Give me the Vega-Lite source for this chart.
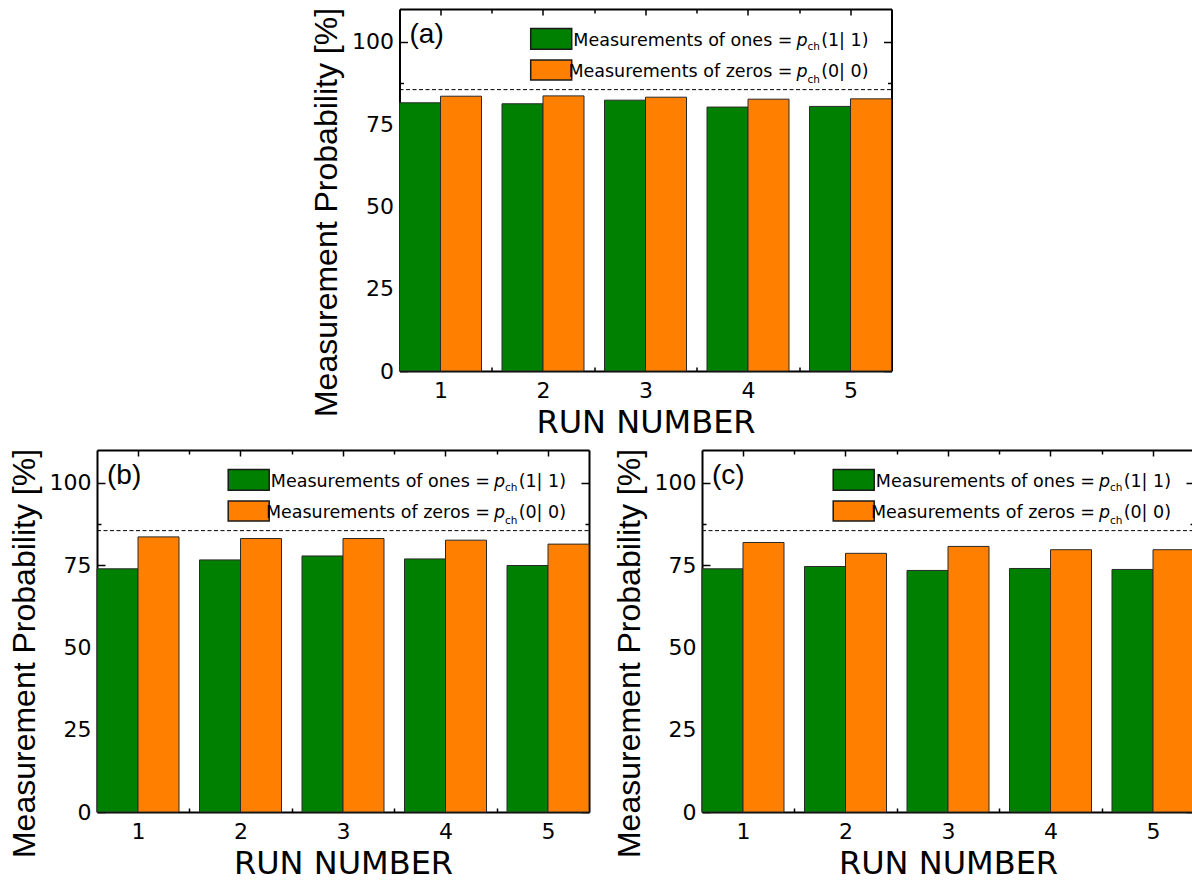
{
  "$schema": "https://vega.github.io/schema/vega-lite/v6.json",
  "padding": {"left": 7, "top": 7, "right": 0, "bottom": 0},
  "background": "white",
  "datasets": {
    "runs": [
      {"panel": "a", "run": 1, "series": "ones", "value": 81.5},
      {"panel": "a", "run": 1, "series": "zeros", "value": 83.5},
      {"panel": "a", "run": 2, "series": "ones", "value": 81.2},
      {"panel": "a", "run": 2, "series": "zeros", "value": 83.6},
      {"panel": "a", "run": 3, "series": "ones", "value": 82.3},
      {"panel": "a", "run": 3, "series": "zeros", "value": 83.2},
      {"panel": "a", "run": 4, "series": "ones", "value": 80.2},
      {"panel": "a", "run": 4, "series": "zeros", "value": 82.6},
      {"panel": "a", "run": 5, "series": "ones", "value": 80.4},
      {"panel": "a", "run": 5, "series": "zeros", "value": 82.7},
      {"panel": "b", "run": 1, "series": "ones", "value": 73.9},
      {"panel": "b", "run": 1, "series": "zeros", "value": 83.6},
      {"panel": "b", "run": 2, "series": "ones", "value": 76.6},
      {"panel": "b", "run": 2, "series": "zeros", "value": 83.1},
      {"panel": "b", "run": 3, "series": "ones", "value": 77.8},
      {"panel": "b", "run": 3, "series": "zeros", "value": 83.1},
      {"panel": "b", "run": 4, "series": "ones", "value": 76.9},
      {"panel": "b", "run": 4, "series": "zeros", "value": 82.6},
      {"panel": "b", "run": 5, "series": "ones", "value": 74.9},
      {"panel": "b", "run": 5, "series": "zeros", "value": 81.4},
      {"panel": "c", "run": 1, "series": "ones", "value": 73.9},
      {"panel": "c", "run": 1, "series": "zeros", "value": 81.9},
      {"panel": "c", "run": 2, "series": "ones", "value": 74.6},
      {"panel": "c", "run": 2, "series": "zeros", "value": 78.6},
      {"panel": "c", "run": 3, "series": "ones", "value": 73.4},
      {"panel": "c", "run": 3, "series": "zeros", "value": 80.7},
      {"panel": "c", "run": 4, "series": "ones", "value": 74.0},
      {"panel": "c", "run": 4, "series": "zeros", "value": 79.7},
      {"panel": "c", "run": 5, "series": "ones", "value": 73.7},
      {"panel": "c", "run": 5, "series": "zeros", "value": 79.7}
    ]
  },
  "vconcat": [
    {
      "width": 492, "height": 362,
      "layer": [
        {
          "data": {"name": "runs"},
          "transform": [{"filter": "datum.panel == 'a'"}],
          "mark": {"type": "bar", "stroke": "#2a2a2a", "strokeWidth": 1},
          "encoding": {
            "x": {"field": "run", "type": "ordinal", "scale": {"paddingInner": 0.2, "paddingOuter": 0},
              "axis": {"orient": "bottom", "title": "RUN NUMBER", "labelAngle": 0, "labelFont": "DejaVu Sans", "labelFontSize": 22, "labelPadding": 13, "tickSize": -4, "tickOffset": 51.25, "labelOffset": -51.25,
                "tickOpacity": {"condition": {"test": "datum.value == 5", "value": 0}, "value": 1},
                "titleFont": "DejaVu Sans", "titleFontSize": 32, "titleBaseline": "alphabetic", "titleY": 61}},
            "xOffset": {"field": "series", "type": "nominal", "scale": {"domain": ["ones", "zeros"], "paddingInner": 0, "paddingOuter": 0}},
            "y": {"field": "value", "type": "quantitative", "scale": {"domain": [0, 110], "nice": false, "zero": true},
              "axis": {"orient": "left", "title": "Measurement Probability [%]", "values": [0, 12.5, 25, 37.5, 50, 62.5, 75, 87.5, 100],
                "labelExpr": "datum.value % 25 == 0 ? datum.label : ''", "labelFont": "DejaVu Sans", "labelFontSize": 22, "labelPadding": 14,
                "tickSize": {"condition": {"test": "datum.value % 25 == 0", "value": -8}, "value": -4},
                "titleFontSize": 32, "titleBaseline": "alphabetic", "titleAlign": "center", "titleX": -63, "titleY": 203}},
            "color": {"field": "series", "type": "nominal", "scale": {"domain": ["ones", "zeros"], "range": ["#008000", "#ff8000"]}, "legend": null}
          }
        },
        {
          "data": {"values": [{}]},
          "layer": [
            {"mark": {"type": "rule", "strokeDash": [4, 2.5], "strokeWidth": 1, "color": "black"},
             "encoding": {
               "x": {"datum": 0.6, "type": "quantitative", "scale": {"domain": [0.6, 5.4], "nice": false, "zero": false},
                 "axis": {"orient": "top", "title": null, "labels": false, "values": [1, 1.5, 2, 2.5, 3, 3.5, 4, 4.5, 5],
                   "tickSize": {"condition": {"test": "datum.value % 1 == 0", "value": -6}, "value": -4}}},
               "x2": {"datum": 5.4},
               "y": {"datum": 85.5, "type": "quantitative",
                 "axis": {"orient": "right", "title": null, "labels": false, "values": [0, 12.5, 25, 37.5, 50, 62.5, 75, 87.5, 100],
                   "tickSize": {"condition": {"test": "datum.value % 25 == 0", "value": -8}, "value": -4}}}}},
            {"mark": {"type": "rect", "fill": "#008000", "stroke": "#1a1a1a", "strokeWidth": 1.5},
             "encoding": {"x": {"datum": 1.88, "type": "quantitative"}, "x2": {"datum": 2.28}, "y": {"datum": 104.1, "type": "quantitative"}, "y2": {"datum": 97.8}}},
            {"mark": {"type": "rect", "fill": "#ff8000", "stroke": "#1a1a1a", "strokeWidth": 1.5},
             "encoding": {"x": {"datum": 1.88, "type": "quantitative"}, "x2": {"datum": 2.28}, "y": {"datum": 94.5, "type": "quantitative"}, "y2": {"datum": 88.4}}},
            {"mark": {"type": "text", "text": "Measurements of ones =", "align": "right", "baseline": "alphabetic", "fontSize": 17.5, "font": "DejaVu Sans", "color": "black"},
             "encoding": {"x": {"datum": 4.434, "type": "quantitative"}, "y": {"datum": 98.75, "type": "quantitative"}}},
            {"mark": {"type": "text", "text": "Measurements of zeros =", "align": "right", "baseline": "alphabetic", "fontSize": 17.5, "font": "DejaVu Sans", "color": "black"},
             "encoding": {"x": {"datum": 4.434, "type": "quantitative"}, "y": {"datum": 89.4, "type": "quantitative"}}},
            {"mark": {"type": "text", "text": "p", "align": "left", "baseline": "alphabetic", "fontSize": 17.5, "fontStyle": "italic", "font": "DejaVu Sans", "color": "black"},
             "encoding": {"x": {"datum": 4.473, "type": "quantitative"}, "y": {"datum": 98.75, "type": "quantitative"}}},
            {"mark": {"type": "text", "text": "p", "align": "left", "baseline": "alphabetic", "fontSize": 17.5, "fontStyle": "italic", "font": "DejaVu Sans", "color": "black"},
             "encoding": {"x": {"datum": 4.473, "type": "quantitative"}, "y": {"datum": 89.4, "type": "quantitative"}}},
            {"mark": {"type": "text", "text": "ch", "align": "left", "baseline": "alphabetic", "fontSize": 10.5, "font": "DejaVu Sans", "color": "black"},
             "encoding": {"x": {"datum": 4.58, "type": "quantitative"}, "y": {"datum": 97.5, "type": "quantitative"}}},
            {"mark": {"type": "text", "text": "ch", "align": "left", "baseline": "alphabetic", "fontSize": 10.5, "font": "DejaVu Sans", "color": "black"},
             "encoding": {"x": {"datum": 4.58, "type": "quantitative"}, "y": {"datum": 87.4, "type": "quantitative"}}},
            {"mark": {"type": "text", "text": "(1| 1)", "align": "right", "baseline": "alphabetic", "fontSize": 17.5, "font": "DejaVu Sans", "color": "black"},
             "encoding": {"x": {"datum": 5.176, "type": "quantitative"}, "y": {"datum": 98.75, "type": "quantitative"}}},
            {"mark": {"type": "text", "text": "(0| 0)", "align": "right", "baseline": "alphabetic", "fontSize": 17.5, "font": "DejaVu Sans", "color": "black"},
             "encoding": {"x": {"datum": 5.176, "type": "quantitative"}, "y": {"datum": 89.4, "type": "quantitative"}}},
            {"mark": {"type": "text", "text": "(a)", "align": "left", "baseline": "middle", "fontSize": 28, "font": "Liberation Sans", "color": "black"},
             "encoding": {"x": {"datum": 0.698, "type": "quantitative"}, "y": {"datum": 102, "type": "quantitative"}}}
          ]
        }
      ],
      "resolve": {"scale": {"x": "independent"}, "axis": {"x": "independent", "y": "independent"}}
    },
    {
      "hconcat": [
        {
          "width": 492, "height": 362,
          "layer": [
            {
              "data": {"name": "runs"},
              "transform": [{"filter": "datum.panel == 'b'"}],
              "mark": {"type": "bar", "stroke": "#2a2a2a", "strokeWidth": 1},
              "encoding": {
                "x": {"field": "run", "type": "ordinal", "scale": {"paddingInner": 0.2, "paddingOuter": 0},
                  "axis": {"orient": "bottom", "title": "RUN NUMBER", "labelAngle": 0, "labelFont": "DejaVu Sans", "labelFontSize": 22, "labelPadding": 13, "tickSize": -4, "tickOffset": 51.25, "labelOffset": -51.25,
                    "tickOpacity": {"condition": {"test": "datum.value == 5", "value": 0}, "value": 1},
                    "titleFont": "DejaVu Sans", "titleFontSize": 32, "titleBaseline": "alphabetic", "titleY": 61}},
                "xOffset": {"field": "series", "type": "nominal", "scale": {"domain": ["ones", "zeros"], "paddingInner": 0, "paddingOuter": 0}},
                "y": {"field": "value", "type": "quantitative", "scale": {"domain": [0, 110], "nice": false, "zero": true},
                  "axis": {"orient": "left", "title": "Measurement Probability [%]", "values": [0, 12.5, 25, 37.5, 50, 62.5, 75, 87.5, 100],
                    "labelExpr": "datum.value % 25 == 0 ? datum.label : ''", "labelFont": "DejaVu Sans", "labelFontSize": 22, "labelPadding": 14,
                    "tickSize": {"condition": {"test": "datum.value % 25 == 0", "value": -8}, "value": -4},
                    "titleFontSize": 32, "titleBaseline": "alphabetic", "titleAlign": "center", "titleX": -63, "titleY": 203}},
                "color": {"field": "series", "type": "nominal", "scale": {"domain": ["ones", "zeros"], "range": ["#008000", "#ff8000"]}, "legend": null}
              }
            },
            {
              "data": {"values": [{}]},
              "layer": [
                {"mark": {"type": "rule", "strokeDash": [4, 2.5], "strokeWidth": 1, "color": "black"},
                 "encoding": {
                   "x": {"datum": 0.6, "type": "quantitative", "scale": {"domain": [0.6, 5.4], "nice": false, "zero": false},
                     "axis": {"orient": "top", "title": null, "labels": false, "values": [1, 1.5, 2, 2.5, 3, 3.5, 4, 4.5, 5],
                       "tickSize": {"condition": {"test": "datum.value % 1 == 0", "value": -6}, "value": -4}}},
                   "x2": {"datum": 5.4},
                   "y": {"datum": 85.5, "type": "quantitative",
                     "axis": {"orient": "right", "title": null, "labels": false, "values": [0, 12.5, 25, 37.5, 50, 62.5, 75, 87.5, 100],
                       "tickSize": {"condition": {"test": "datum.value % 25 == 0", "value": -8}, "value": -4}}}}},
                {"mark": {"type": "rect", "fill": "#008000", "stroke": "#1a1a1a", "strokeWidth": 1.5},
                 "encoding": {"x": {"datum": 1.88, "type": "quantitative"}, "x2": {"datum": 2.28}, "y": {"datum": 104.1, "type": "quantitative"}, "y2": {"datum": 97.8}}},
                {"mark": {"type": "rect", "fill": "#ff8000", "stroke": "#1a1a1a", "strokeWidth": 1.5},
                 "encoding": {"x": {"datum": 1.88, "type": "quantitative"}, "x2": {"datum": 2.28}, "y": {"datum": 94.5, "type": "quantitative"}, "y2": {"datum": 88.4}}},
                {"mark": {"type": "text", "text": "Measurements of ones =", "align": "right", "baseline": "alphabetic", "fontSize": 17.5, "font": "DejaVu Sans", "color": "black"},
                 "encoding": {"x": {"datum": 4.434, "type": "quantitative"}, "y": {"datum": 98.75, "type": "quantitative"}}},
                {"mark": {"type": "text", "text": "Measurements of zeros =", "align": "right", "baseline": "alphabetic", "fontSize": 17.5, "font": "DejaVu Sans", "color": "black"},
                 "encoding": {"x": {"datum": 4.434, "type": "quantitative"}, "y": {"datum": 89.4, "type": "quantitative"}}},
                {"mark": {"type": "text", "text": "p", "align": "left", "baseline": "alphabetic", "fontSize": 17.5, "fontStyle": "italic", "font": "DejaVu Sans", "color": "black"},
                 "encoding": {"x": {"datum": 4.473, "type": "quantitative"}, "y": {"datum": 98.75, "type": "quantitative"}}},
                {"mark": {"type": "text", "text": "p", "align": "left", "baseline": "alphabetic", "fontSize": 17.5, "fontStyle": "italic", "font": "DejaVu Sans", "color": "black"},
                 "encoding": {"x": {"datum": 4.473, "type": "quantitative"}, "y": {"datum": 89.4, "type": "quantitative"}}},
                {"mark": {"type": "text", "text": "ch", "align": "left", "baseline": "alphabetic", "fontSize": 10.5, "font": "DejaVu Sans", "color": "black"},
                 "encoding": {"x": {"datum": 4.58, "type": "quantitative"}, "y": {"datum": 97.5, "type": "quantitative"}}},
                {"mark": {"type": "text", "text": "ch", "align": "left", "baseline": "alphabetic", "fontSize": 10.5, "font": "DejaVu Sans", "color": "black"},
                 "encoding": {"x": {"datum": 4.58, "type": "quantitative"}, "y": {"datum": 87.4, "type": "quantitative"}}},
                {"mark": {"type": "text", "text": "(1| 1)", "align": "right", "baseline": "alphabetic", "fontSize": 17.5, "font": "DejaVu Sans", "color": "black"},
                 "encoding": {"x": {"datum": 5.176, "type": "quantitative"}, "y": {"datum": 98.75, "type": "quantitative"}}},
                {"mark": {"type": "text", "text": "(0| 0)", "align": "right", "baseline": "alphabetic", "fontSize": 17.5, "font": "DejaVu Sans", "color": "black"},
                 "encoding": {"x": {"datum": 5.176, "type": "quantitative"}, "y": {"datum": 89.4, "type": "quantitative"}}},
                {"mark": {"type": "text", "text": "(b)", "align": "left", "baseline": "middle", "fontSize": 28, "font": "Liberation Sans", "color": "black"},
                 "encoding": {"x": {"datum": 0.698, "type": "quantitative"}, "y": {"datum": 102, "type": "quantitative"}}}
              ]
            }
          ],
          "resolve": {"scale": {"x": "independent"}, "axis": {"x": "independent", "y": "independent"}}
        },
        {
          "width": 492, "height": 362,
          "layer": [
            {
              "data": {"name": "runs"},
              "transform": [{"filter": "datum.panel == 'c'"}],
              "mark": {"type": "bar", "stroke": "#2a2a2a", "strokeWidth": 1},
              "encoding": {
                "x": {"field": "run", "type": "ordinal", "scale": {"paddingInner": 0.2, "paddingOuter": 0},
                  "axis": {"orient": "bottom", "title": "RUN NUMBER", "labelAngle": 0, "labelFont": "DejaVu Sans", "labelFontSize": 22, "labelPadding": 13, "tickSize": -4, "tickOffset": 51.25, "labelOffset": -51.25,
                    "tickOpacity": {"condition": {"test": "datum.value == 5", "value": 0}, "value": 1},
                    "titleFont": "DejaVu Sans", "titleFontSize": 32, "titleBaseline": "alphabetic", "titleY": 61}},
                "xOffset": {"field": "series", "type": "nominal", "scale": {"domain": ["ones", "zeros"], "paddingInner": 0, "paddingOuter": 0}},
                "y": {"field": "value", "type": "quantitative", "scale": {"domain": [0, 110], "nice": false, "zero": true},
                  "axis": {"orient": "left", "title": "Measurement Probability [%]", "values": [0, 12.5, 25, 37.5, 50, 62.5, 75, 87.5, 100],
                    "labelExpr": "datum.value % 25 == 0 ? datum.label : ''", "labelFont": "DejaVu Sans", "labelFontSize": 22, "labelPadding": 14,
                    "tickSize": {"condition": {"test": "datum.value % 25 == 0", "value": -8}, "value": -4},
                    "titleFontSize": 32, "titleBaseline": "alphabetic", "titleAlign": "center", "titleX": -63, "titleY": 203}},
                "color": {"field": "series", "type": "nominal", "scale": {"domain": ["ones", "zeros"], "range": ["#008000", "#ff8000"]}, "legend": null}
              }
            },
            {
              "data": {"values": [{}]},
              "layer": [
                {"mark": {"type": "rule", "strokeDash": [4, 2.5], "strokeWidth": 1, "color": "black"},
                 "encoding": {
                   "x": {"datum": 0.6, "type": "quantitative", "scale": {"domain": [0.6, 5.4], "nice": false, "zero": false},
                     "axis": {"orient": "top", "title": null, "labels": false, "values": [1, 1.5, 2, 2.5, 3, 3.5, 4, 4.5, 5],
                       "tickSize": {"condition": {"test": "datum.value % 1 == 0", "value": -6}, "value": -4}}},
                   "x2": {"datum": 5.4},
                   "y": {"datum": 85.5, "type": "quantitative",
                     "axis": {"orient": "right", "title": null, "labels": false, "values": [0, 12.5, 25, 37.5, 50, 62.5, 75, 87.5, 100],
                       "tickSize": {"condition": {"test": "datum.value % 25 == 0", "value": -8}, "value": -4}}}}},
                {"mark": {"type": "rect", "fill": "#008000", "stroke": "#1a1a1a", "strokeWidth": 1.5},
                 "encoding": {"x": {"datum": 1.88, "type": "quantitative"}, "x2": {"datum": 2.28}, "y": {"datum": 104.1, "type": "quantitative"}, "y2": {"datum": 97.8}}},
                {"mark": {"type": "rect", "fill": "#ff8000", "stroke": "#1a1a1a", "strokeWidth": 1.5},
                 "encoding": {"x": {"datum": 1.88, "type": "quantitative"}, "x2": {"datum": 2.28}, "y": {"datum": 94.5, "type": "quantitative"}, "y2": {"datum": 88.4}}},
                {"mark": {"type": "text", "text": "Measurements of ones =", "align": "right", "baseline": "alphabetic", "fontSize": 17.5, "font": "DejaVu Sans", "color": "black"},
                 "encoding": {"x": {"datum": 4.434, "type": "quantitative"}, "y": {"datum": 98.75, "type": "quantitative"}}},
                {"mark": {"type": "text", "text": "Measurements of zeros =", "align": "right", "baseline": "alphabetic", "fontSize": 17.5, "font": "DejaVu Sans", "color": "black"},
                 "encoding": {"x": {"datum": 4.434, "type": "quantitative"}, "y": {"datum": 89.4, "type": "quantitative"}}},
                {"mark": {"type": "text", "text": "p", "align": "left", "baseline": "alphabetic", "fontSize": 17.5, "fontStyle": "italic", "font": "DejaVu Sans", "color": "black"},
                 "encoding": {"x": {"datum": 4.473, "type": "quantitative"}, "y": {"datum": 98.75, "type": "quantitative"}}},
                {"mark": {"type": "text", "text": "p", "align": "left", "baseline": "alphabetic", "fontSize": 17.5, "fontStyle": "italic", "font": "DejaVu Sans", "color": "black"},
                 "encoding": {"x": {"datum": 4.473, "type": "quantitative"}, "y": {"datum": 89.4, "type": "quantitative"}}},
                {"mark": {"type": "text", "text": "ch", "align": "left", "baseline": "alphabetic", "fontSize": 10.5, "font": "DejaVu Sans", "color": "black"},
                 "encoding": {"x": {"datum": 4.58, "type": "quantitative"}, "y": {"datum": 97.5, "type": "quantitative"}}},
                {"mark": {"type": "text", "text": "ch", "align": "left", "baseline": "alphabetic", "fontSize": 10.5, "font": "DejaVu Sans", "color": "black"},
                 "encoding": {"x": {"datum": 4.58, "type": "quantitative"}, "y": {"datum": 87.4, "type": "quantitative"}}},
                {"mark": {"type": "text", "text": "(1| 1)", "align": "right", "baseline": "alphabetic", "fontSize": 17.5, "font": "DejaVu Sans", "color": "black"},
                 "encoding": {"x": {"datum": 5.176, "type": "quantitative"}, "y": {"datum": 98.75, "type": "quantitative"}}},
                {"mark": {"type": "text", "text": "(0| 0)", "align": "right", "baseline": "alphabetic", "fontSize": 17.5, "font": "DejaVu Sans", "color": "black"},
                 "encoding": {"x": {"datum": 5.176, "type": "quantitative"}, "y": {"datum": 89.4, "type": "quantitative"}}},
                {"mark": {"type": "text", "text": "(c)", "align": "left", "baseline": "middle", "fontSize": 28, "font": "Liberation Sans", "color": "black"},
                 "encoding": {"x": {"datum": 0.698, "type": "quantitative"}, "y": {"datum": 102, "type": "quantitative"}}}
              ]
            }
          ],
          "resolve": {"scale": {"x": "independent"}, "axis": {"x": "independent", "y": "independent"}}
        }
      ],
      "spacing": 13
    }
  ],
  "spacing": 10,
  "center": true,
  "config": {
    "view": {"stroke": null},
    "axis": {"grid": false, "domainColor": "black", "domainWidth": 2, "tickColor": "black", "tickWidth": 1.5,
      "labelFont": "Liberation Sans", "titleFont": "Liberation Sans", "labelColor": "black", "titleColor": "black", "titleFontWeight": "normal"}
  }
}
